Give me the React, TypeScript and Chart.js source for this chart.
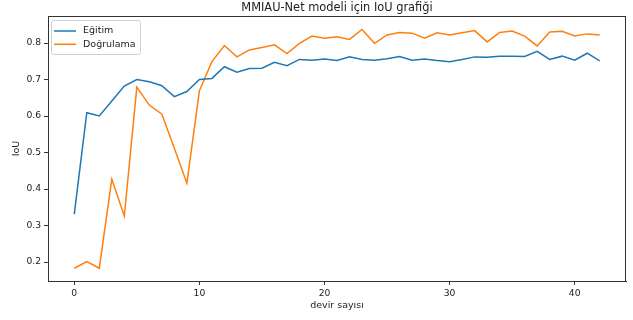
import React, { useEffect, useRef } from "react";
import { Chart, registerables } from "chart.js";

Chart.register(...registerables);

const epochs = Array.from({ length: 43 }, (_, i) => i);
const egitim = [
  0.331, 0.609, 0.600, 0.641, 0.682, 0.700, 0.694, 0.683, 0.653, 0.667,
  0.700, 0.703, 0.735, 0.720, 0.730, 0.731, 0.747, 0.738, 0.755, 0.753,
  0.756, 0.752, 0.762, 0.755, 0.753, 0.757, 0.763, 0.753, 0.756, 0.752,
  0.749, 0.755, 0.762, 0.761, 0.764, 0.764, 0.763, 0.777, 0.755, 0.764,
  0.753, 0.772, 0.751,
];
const dogrulama = [
  0.183, 0.201, 0.183, 0.427, 0.326, 0.679, 0.630, 0.605, 0.512, 0.416,
  0.669, 0.749, 0.793, 0.762, 0.781, 0.788, 0.795, 0.771, 0.799, 0.819,
  0.813, 0.817, 0.810, 0.837, 0.799, 0.822, 0.829, 0.827, 0.813, 0.828,
  0.822, 0.828, 0.834, 0.803, 0.829, 0.833, 0.819, 0.792, 0.830, 0.832,
  0.819, 0.825, 0.822,
];
const xTicks = [0, 10, 20, 30, 40];
const yTicks = [0.2, 0.3, 0.4, 0.5, 0.6, 0.7, 0.8];
const titleText = "MMIAU-Net modeli için IoU grafiği";
const xLabel = "devir sayısı";
const yLabel = "IoU";
const seriesNames = ["Eğitim", "Doğrulama"];
const seriesColors = ["#1f77b4", "#ff7f0e"];

const FONT = "DejaVu Sans";

const decor = {
  id: "decor",
  afterDraw(chart: any) {
    const { ctx, chartArea } = chart;
    const { left, right, top, bottom } = chartArea;
    ctx.save();
    // frame
    ctx.strokeStyle = "#333";
    ctx.lineWidth = 1;
    ctx.strokeRect(Math.round(left) + 0.5, Math.round(top) + 0.5, Math.round(right - left) - 1, Math.round(bottom - top));
    // title
    ctx.fillStyle = "#222";
    ctx.font = `11.4px ${FONT}`;
    ctx.textAlign = "center";
    ctx.textBaseline = "middle";
    ctx.fillText(titleText, (left + right) / 2, 8.5);
    // x label
    ctx.font = `9.5px ${FONT}`;
    ctx.fillText(xLabel, (left + right) / 2, 305.5);
    // y label
    ctx.save();
    ctx.translate(17, (top + bottom) / 2);
    ctx.rotate(-Math.PI / 2);
    ctx.fillText(yLabel, 0, 0);
    ctx.restore();
    // legend
    const lx = 51, ly = 20, lw = 89, lh = 34;
    ctx.fillStyle = "rgba(255,255,255,0.85)";
    ctx.strokeStyle = "#d0d0d0";
    ctx.lineWidth = 1;
    ctx.beginPath();
    ctx.roundRect(lx + 0.5, ly + 0.5, lw, lh, 2);
    ctx.fill();
    ctx.stroke();
    ctx.font = `9.5px ${FONT}`;
    ctx.textAlign = "left";
    seriesNames.forEach((name, i) => {
      const yy = 31 + i * 13.3;
      ctx.strokeStyle = seriesColors[i];
      ctx.lineWidth = 1.5;
      ctx.beginPath();
      ctx.moveTo(54, yy);
      ctx.lineTo(76, yy);
      ctx.stroke();
      ctx.fillStyle = "#222";
      ctx.fillText(name, 83, yy);
    });
    ctx.restore();
  },
};

export default function App() {
  const ref = useRef<HTMLCanvasElement>(null);
  useEffect(() => {
    const chart = new Chart(ref.current!, {
      type: "line",
      data: {
        datasets: [
          {
            label: seriesNames[0],
            data: epochs.map((x, i) => ({ x, y: egitim[i] })),
            borderColor: seriesColors[0],
            borderWidth: 1.5,
            pointRadius: 0,
            tension: 0,
          },
          {
            label: seriesNames[1],
            data: epochs.map((x, i) => ({ x, y: dogrulama[i] })),
            borderColor: seriesColors[1],
            borderWidth: 1.5,
            pointRadius: 0,
            tension: 0,
          },
        ],
      },
      plugins: [decor],
      options: {
        animation: false,
        responsive: false,
        layout: { padding: { left: 0, top: 16, right: 7, bottom: 0 } },
        plugins: { legend: { display: false }, title: { display: false }, tooltip: { enabled: false } },
        scales: {
          x: {
            type: "linear",
            min: -2.1,
            max: 44.1,
            afterBuildTicks: (s: any) => { s.ticks = xTicks.map((v) => ({ value: v })); },
            afterFit: (s: any) => { s.height = 39; },
            grid: { drawOnChartArea: false, drawTicks: true, tickLength: 4, color: "#333" },
            border: { display: true, color: "#333" },
            ticks: { padding: 3, color: "#222", font: { family: FONT, size: 9.2 }, maxRotation: 0, autoSkip: false },
          },
          y: {
            type: "linear",
            min: 0.148,
            max: 0.874,
            afterBuildTicks: (s: any) => { s.ticks = yTicks.map((v) => ({ value: v })); },
            afterFit: (s: any) => { s.width = 48; },
            grid: { drawOnChartArea: false, drawTicks: true, tickLength: 4, color: "#333" },
            border: { display: true, color: "#333" },
            ticks: { padding: 3, color: "#222", font: { family: FONT, size: 9.2 }, callback: (v: any) => Number(v).toFixed(1) },
          },
        },
      },
    });
    return () => chart.destroy();
  }, []);
  return (
    <div style={{ position: "absolute", left: 0, top: 0, width: 633, height: 320, background: "#fff" }}>
      <canvas ref={ref} width={633} height={320} />
    </div>
  );
}
